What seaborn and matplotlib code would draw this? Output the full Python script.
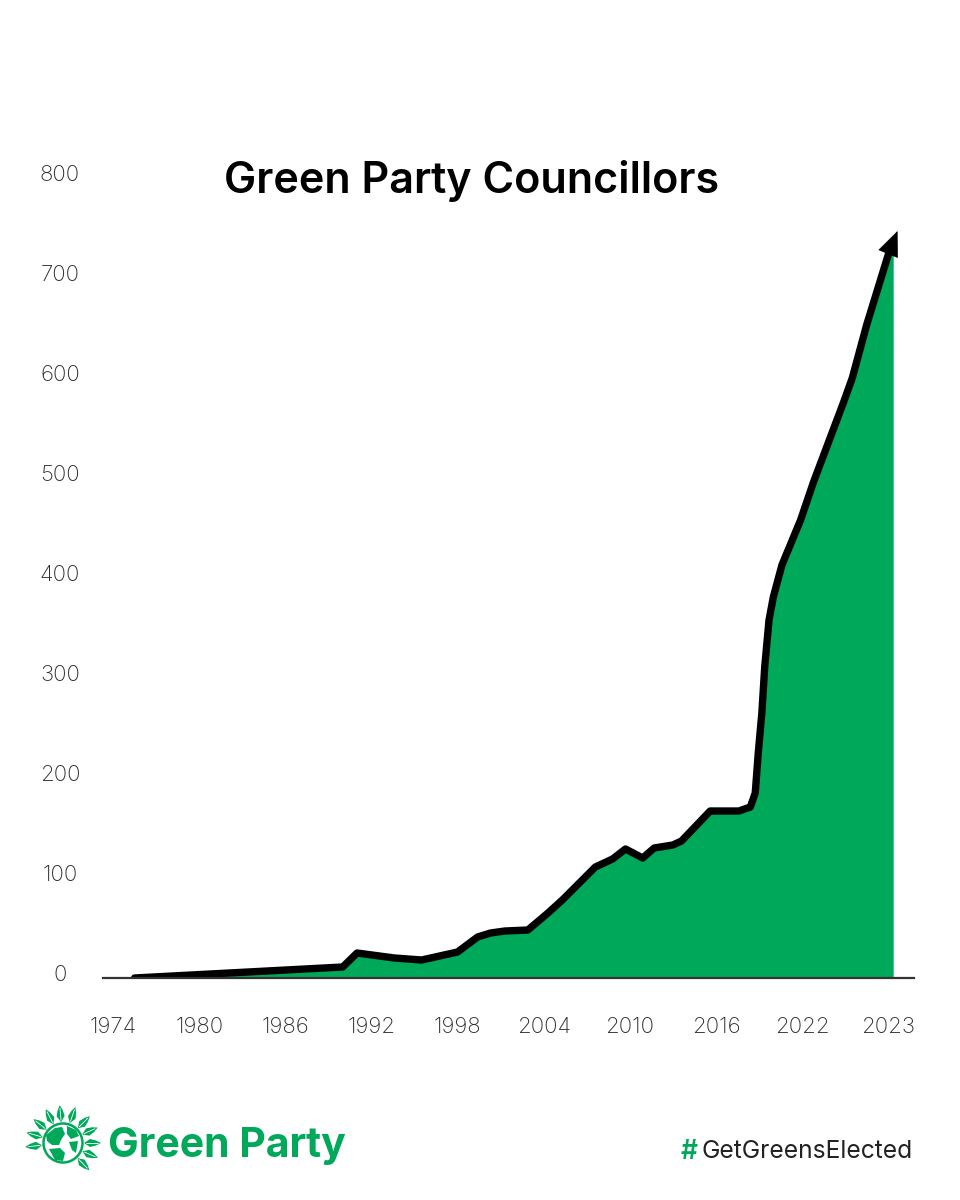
import numpy as np
import pandas as pd
import seaborn as sns
import matplotlib.pyplot as plt
from matplotlib.patches import Circle, Polygon
from matplotlib.transforms import ScaledTranslation

# positions on the year axis (the last label, 2023, sits one slot after 2022)
years = [1975.5, 1990, 1991, 1993.6, 1995.5, 1998, 1999.4, 2000.3, 2001.3, 2002.9,
         2004.3, 2005.3, 2007.6, 2008.8, 2009.7, 2010.9, 2011.7, 2013, 2013.6, 2015.6,
         2017.6, 2018.4, 2018.74, 2018.95, 2019.2, 2019.4, 2019.7, 2020, 2020.6, 2021.9,
         2022.8, 2024.9, 2025.5, 2026.5, 2028, 2028.35]
councillors = [0, 11, 25, 20, 18, 26, 41, 45, 47, 48,
               65, 78, 111, 119, 129, 120, 130, 133, 137, 167,
               167, 171, 185, 225, 265, 311, 358, 381, 413, 458,
               496, 576, 600, 653, 723, 735]
arrow_base = (2028.05, 726)
arrow_tip = (2028.65, 747)

xtick_pos = [1974, 1980, 1986, 1992, 1998, 2004, 2010, 2016, 2022, 2028]
xtick_labels = ['1974', '1980', '1986', '1992', '1998', '2004', '2010', '2016', '2022', '2023']
ytick_vals = [0, 100, 200, 300, 400, 500, 600, 700, 800]

GREEN = '#00A85A'
GREY = '#2E2E2E'

sns.set_theme(style='white')
plt.rcParams['font.family'] = ['Inter', 'DejaVu Sans']

df = pd.DataFrame({'year': years, 'councillors': councillors})

fig = plt.figure(figsize=(9.6, 12), dpi=100)
ax = fig.add_axes([103 / 960, 222 / 1200, 811 / 960, 828 / 1200])

ax.fill_between(df['year'], df['councillors'], 0, color=GREEN, lw=0)
sns.lineplot(x='year', y='councillors', data=df, color='black', lw=5.3, ax=ax,
             estimator=None, sort=False, solid_joinstyle='round')
ax.annotate('', xy=arrow_tip, xytext=arrow_base,
            arrowprops=dict(arrowstyle='-|>,head_length=17,head_width=7.2', color='black',
                            lw=0.5, shrinkA=0, shrinkB=0, mutation_scale=1))

ax.set_xlim(1973.3, 2029.8)
ax.set_ylim(0, 828)
ax.set_xlabel('')
ax.set_ylabel('')
ax.set_xticks(xtick_pos)
ax.set_xticklabels(xtick_labels, fontweight='light')
ax.set_yticks(ytick_vals)
ax.set_yticklabels([str(v) for v in ytick_vals], fontweight='light')
ax.tick_params(axis='x', length=0, pad=28, labelsize=16, labelcolor=GREY)
ax.tick_params(axis='y', length=0, pad=31, labelsize=16, labelcolor=GREY)

# y labels sit a little above their ticks in the original
shift = ScaledTranslation(0, 5 / 100, fig.dpi_scale_trans)
for lab in ax.get_yticklabels():
    lab.set_ha('center')
    lab.set_transform(lab.get_transform() + shift)

sns.despine(ax=ax, left=True)
ax.spines['bottom'].set_color('#333333')
ax.spines['bottom'].set_linewidth(1.6)
ax.patch.set_alpha(0)

fig.text(472 / 960, 1 - 181 / 1200, 'Green Party Councillors', ha='center', va='center',
         fontsize=31, fontweight='semibold', color='black')

# footer
fig.text(108 / 960, 1 - 1146 / 1200, 'Green Party', ha='left', va='center',
         fontsize=29.5, fontweight='bold', color=GREEN)
fig.text(681 / 960, 1 - 1152 / 1200, '#', ha='left', va='center', fontsize=19,
         fontweight='semibold', color=GREEN)
fig.text(913 / 960, 1 - 1152 / 1200, 'GetGreensElected', ha='right', va='center',
         fontsize=17.7, color='#222222')

# logo: globe with a ring of leaves
logo = fig.add_axes([20 / 960, 1 - 1186 / 1200, 86 / 960, 86 / 1200])
logo.set_xlim(-43, 43)
logo.set_ylim(-43, 43)
logo.set_aspect('equal')
logo.axis('off')
for ang in [95, 117, 71, 45, 24, 0, -23, -46, 141, 164, -174]:
    c, s = np.cos(np.deg2rad(ang)), np.sin(np.deg2rad(ang))
    rot = np.array([[c, -s], [s, c]])
    leaf = np.array([[21, 0], [27, 4], [33, 2.5], [38, 0], [33, -2.5], [27, -4]])
    logo.add_patch(Polygon(leaf @ rot.T, color=GREEN, lw=0))
    logo.plot(*(np.array([[23, 0], [35, 0]]) @ rot.T).T, color='white', lw=0.6)
logo.add_patch(Circle((0, 0), 19.5, fc='white', ec=GREEN, lw=1.8))
logo.add_patch(Polygon([(-17, 8), (-8, 15), (-1, 16), (2, 9), (-2, 3), (-4, -2), (-11, -2), (-16, 2)], color=GREEN, lw=0))
logo.add_patch(Polygon([(-14, -6), (-3, -5), (2, -10), (0, -18), (-8, -17)], color=GREEN, lw=0))
logo.add_patch(Polygon([(4, 17), (13, 13), (16, 7), (8, 4), (4, 9)], color=GREEN, lw=0))
logo.add_patch(Polygon([(6, 1), (15, 2), (13, -10), (9, -7)], color=GREEN, lw=0))

plt.savefig('out.png', dpi=100)
plt.close()
